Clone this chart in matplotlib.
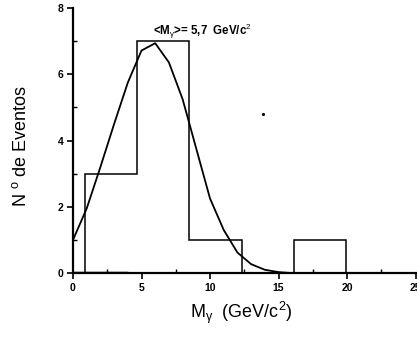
import matplotlib
matplotlib.use('Agg')
import matplotlib.pyplot as plt
from matplotlib.ticker import MultipleLocator

# histogram of events
bin_edges = [0.9, 4.7, 8.5, 12.3, 16.1, 19.9]
counts = [3, 7, 1, 0, 1]

# fitted curve
curve_x = [0, 1, 2, 3, 4, 5, 6, 7, 8, 9, 10, 11, 12, 13, 14, 15, 16, 22]
curve_y = [1.0, 1.95, 3.2, 4.5, 5.75, 6.72, 6.94, 6.36, 5.25, 3.75, 2.25,
           1.3, 0.62, 0.27, 0.1, 0.03, 0.0, 0.0]

mean_label = r'<M$_{\mathrm{\gamma}}$>= 5,7  GeV/c$^{2}$'

plt.rcParams['font.family'] = ['Liberation Sans', 'DejaVu Sans']
plt.rcParams['mathtext.fontset'] = 'custom'
plt.rcParams['mathtext.rm'] = 'Liberation Sans'
plt.rcParams['mathtext.it'] = 'Liberation Sans:italic'
plt.rcParams['mathtext.bf'] = 'Liberation Sans:bold'

fig = plt.figure(figsize=(4.17, 3.38), dpi=100)
ax = fig.add_axes([0.175, 0.192, 0.825, 0.784])

ax.stairs(counts, bin_edges, color='black', linewidth=1.1)
ax.plot(curve_x, curve_y, color='black', linewidth=1.3)
ax.plot([0, 3.9], [0, 0], color='black', linewidth=2.5)   # thick baseline piece
ax.plot([13.9], [4.8], 'k.', markersize=2.5)              # stray dot

ax.set_xlim(0, 25.1)
ax.set_ylim(0, 8)
ax.xaxis.set_major_locator(MultipleLocator(5))
ax.xaxis.set_minor_locator(MultipleLocator(2.5))
ax.yaxis.set_major_locator(MultipleLocator(2))
ax.yaxis.set_minor_locator(MultipleLocator(1))
ax.tick_params(which='major', direction='out', length=4, width=1.2,
               labelsize=7.5, pad=3)
ax.tick_params(which='minor', direction='in', length=3, width=1.0)
for lab in ax.get_xticklabels() + ax.get_yticklabels():
    lab.set_fontweight('bold')

for s in ('top', 'right'):
    ax.spines[s].set_visible(False)
for s in ('left', 'bottom'):
    ax.spines[s].set_linewidth(1.6)

ax.text(5.85, 7.3, mean_label, fontsize=8.3, fontweight='bold',
        ha='left', va='center')

ax.set_xlabel(r'M$_{\mathrm{\gamma}}$  (GeV/c$^{2}$)', fontsize=13)
ax.set_ylabel(r'N $^{\rm o}$ de Eventos', fontsize=13)
ax.xaxis.set_label_coords(0.49, -0.10)
ax.yaxis.set_label_coords(-0.125, 0.48)

fig.savefig('out.png', dpi=100)
